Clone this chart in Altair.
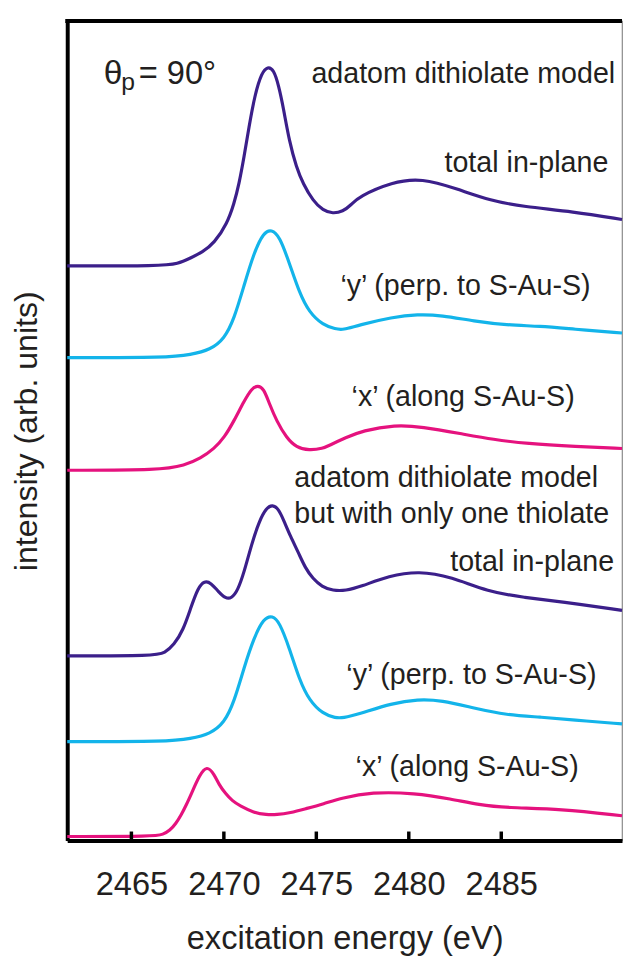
import altair as alt
import pandas as pd

# ---- data (energy in eV, intensity in arb. units) ----
e1 = [2461.53, 2466.60, 2467.51, 2468.20, 2468.84, 2469.48, 2470.18, 2470.55, 2470.82, 2471.09,
      2471.35, 2471.67, 2472.05, 2472.37, 2472.69, 2472.96, 2473.22, 2473.54, 2473.92, 2474.29,
      2474.82, 2475.36, 2475.89, 2476.43, 2476.90, 2477.28, 2479.10, 2480.70, 2482.62, 2484.43,
      2486.20, 2488.87, 2491.53]
i1 = [5.82, 5.82, 5.84, 5.90, 5.96, 6.05, 6.25, 6.45, 6.65, 6.92,
      7.22, 7.55, 7.78, 7.84, 7.81, 7.65, 7.42, 7.08, 6.82, 6.65,
      6.48, 6.38, 6.35, 6.37, 6.44, 6.52, 6.67, 6.71, 6.60, 6.48,
      6.42, 6.37, 6.29]

e2 = [2461.53, 2466.98, 2468.20, 2469.27, 2470.02, 2470.55, 2471.09, 2471.62, 2472.15, 2472.58,
      2473.01, 2473.54, 2474.08, 2474.61, 2475.36, 2476.05, 2476.43, 2477.28, 2479.10, 2480.48,
      2481.76, 2483.53, 2485.29, 2487.10, 2488.87, 2491.53]
i2 = [4.89, 4.89, 4.92, 4.97, 5.08, 5.28, 5.62, 5.95, 6.16, 6.19,
      6.12, 5.85, 5.55, 5.35, 5.22, 5.18, 5.17, 5.22, 5.30, 5.33,
      5.32, 5.26, 5.22, 5.21, 5.18, 5.14]

e3 = [2461.53, 2466.60, 2467.88, 2468.74, 2469.48, 2470.02, 2470.55, 2471.09, 2471.51, 2471.83,
      2472.15, 2472.47, 2472.85, 2473.38, 2473.92, 2474.61, 2475.36, 2475.68, 2476.59, 2477.49,
      2479.26, 2480.70, 2482.83, 2484.59, 2486.36, 2489.03, 2491.53]
i3 = [3.75, 3.75, 3.80, 3.87, 3.97, 4.08, 4.25, 4.45, 4.58, 4.61,
      4.58, 4.42, 4.25, 4.08, 3.98, 3.95, 3.97, 4.00, 4.08, 4.15,
      4.21, 4.19, 4.12, 4.06, 4.02, 3.99, 3.97]

e4 = [2461.53, 2466.28, 2466.80, 2467.30, 2467.80, 2468.20, 2468.60, 2468.95, 2469.30, 2469.70,
      2470.10, 2470.40, 2470.75, 2471.10, 2471.50, 2471.90, 2472.30, 2472.63, 2472.95, 2473.22,
      2473.60, 2474.02, 2474.40, 2474.82, 2475.30, 2475.89, 2476.60, 2477.39, 2478.93, 2480.54,
      2482.30, 2484.27, 2486.25, 2488.22, 2491.53]
i4 = [1.87, 1.87, 1.90, 1.98, 2.13, 2.35, 2.56, 2.63, 2.61, 2.52,
      2.45, 2.45, 2.53, 2.72, 3.00, 3.23, 3.37, 3.40, 3.36, 3.25,
      3.08, 2.92, 2.76, 2.65, 2.57, 2.53, 2.53, 2.57, 2.68, 2.73,
      2.67, 2.52, 2.46, 2.42, 2.33]

e5 = [2461.53, 2466.98, 2468.20, 2469.27, 2470.02, 2470.55, 2471.09, 2471.62, 2472.15, 2472.63,
      2473.01, 2473.54, 2474.08, 2474.61, 2475.36, 2476.05, 2476.43, 2477.28, 2479.10, 2480.48,
      2481.76, 2483.53, 2485.29, 2487.10, 2488.87, 2491.53]
i5 = [1.00, 1.00, 1.03, 1.08, 1.19, 1.40, 1.75, 2.05, 2.25, 2.28,
      2.21, 1.95, 1.63, 1.42, 1.28, 1.24, 1.24, 1.28, 1.39, 1.43,
      1.42, 1.34, 1.27, 1.25, 1.22, 1.18]

e6 = [2461.53, 2466.28, 2466.70, 2467.08, 2467.40, 2467.67, 2467.97, 2468.26, 2468.68, 2469.08,
      2469.48, 2469.75, 2470.07, 2470.45, 2470.87, 2471.62, 2472.30, 2472.85, 2473.60, 2474.40,
      2475.40, 2476.37, 2477.97, 2480.32, 2482.30, 2483.80, 2485.29, 2488.22, 2491.53]
i6 = [0.04, 0.04, 0.06, 0.10, 0.17, 0.25, 0.36, 0.48, 0.66, 0.76,
      0.67, 0.56, 0.48, 0.40, 0.35, 0.28, 0.26, 0.26, 0.28, 0.32,
      0.37, 0.43, 0.49, 0.48, 0.42, 0.36, 0.33, 0.32, 0.25]

series_names = ["s1", "s2", "s3", "s4", "s5", "s6"]
series_colors = ["#3b1f8a", "#13b4ea", "#e5127e", "#3b1f8a", "#13b4ea", "#e5127e"]

x_ticks = [2465, 2470, 2475, 2480, 2485]

ann_text = ["adatom dithiolate model", "total in-plane", "\u2018y\u2019 (perp. to S-Au-S)",
            "\u2018x\u2019 (along S-Au-S)", "total in-plane", "\u2018y\u2019 (perp. to S-Au-S)",
            "\u2018x\u2019 (along S-Au-S)"]
ann_x = [2491.16, 2490.79, 2489.83, 2488.97, 2491.10, 2490.15, 2489.19]
ann_y = [7.67, 6.77, 5.52, 4.40, 2.73, 1.58, 0.65]

ann2_text = ["adatom dithiolate model", "but with only one thiolate"]
ann2_x = [2473.81, 2473.81]
ann2_y = [3.58, 3.22]

# ---- build tables ----
rows = []
for name, es, vs in zip(series_names, [e1, e2, e3, e4, e5, e6], [i1, i2, i3, i4, i5, i6]):
    for order, (e, v) in enumerate(zip(es, vs)):
        rows.append({"series": name, "energy": e, "intensity": v, "order": order})
df = pd.DataFrame(rows)

W, H = 562, 830
XDOM = [2461.53, 2491.53]
YDOM = [0, 8.30]
FONT = "Liberation Sans"
TXT = "#231f20"

xscale = alt.Scale(domain=XDOM, nice=False, zero=False)
yscale = alt.Scale(domain=YDOM, nice=False, zero=False)

lines = alt.Chart(df).mark_line(strokeWidth=3.2, interpolate="basis").encode(
    x=alt.X("energy:Q", scale=xscale,
            axis=alt.Axis(values=x_ticks, format="d", ticks=False, grid=False,
                          domainColor="black", domainWidth=4,
                          labelFont=FONT, labelFontSize=33, labelColor=TXT, labelPadding=29,
                          title="excitation energy (eV)", titleFont=FONT, titleFontSize=33,
                          titleFontWeight="normal", titleColor=TXT, titlePadding=21)),
    y=alt.Y("intensity:Q", scale=yscale,
            axis=alt.Axis(labels=False, ticks=False, grid=False,
                          domainColor="black", domainWidth=4,
                          title="intensity (arb. units)", titleFont=FONT, titleFontSize=32.5,
                          titleFontWeight="normal", titleColor=TXT, titlePadding=24)),
    color=alt.Color("series:N", scale=alt.Scale(domain=series_names, range=series_colors), legend=None),
    order="order:Q",
)

tick_df = pd.DataFrame({"t": x_ticks})
ticks = alt.Chart(tick_df).mark_rule(color="black", strokeWidth=3.5).encode(
    x=alt.X("t:Q", scale=xscale), y=alt.value(H), y2=alt.value(H - 9)
)

top_border = alt.Chart(tick_df.head(1)).mark_rule(color="black", strokeWidth=4).encode(
    x=alt.value(-2), x2=alt.value(W), y=alt.value(0)
)

ann_df = pd.DataFrame({"text": ann_text, "x": ann_x, "y": ann_y})
ann = alt.Chart(ann_df).mark_text(align="right", baseline="alphabetic", font=FONT,
                                  fontSize=29, color=TXT).encode(
    x=alt.X("x:Q", scale=xscale), y=alt.Y("y:Q", scale=yscale), text="text:N"
)
ann2_df = pd.DataFrame({"text": ann2_text, "x": ann2_x, "y": ann2_y})
ann2 = alt.Chart(ann2_df).mark_text(align="left", baseline="alphabetic", font=FONT,
                                    fontSize=29, color=TXT).encode(
    x=alt.X("x:Q", scale=xscale), y=alt.Y("y:Q", scale=yscale), text="text:N"
)

theta_df = pd.DataFrame({"text": ["\u03b8", "p", "= 90\u00b0"],
                         "x": [2463.50, 2464.45, 2465.40],
                         "y": [7.66, 7.60, 7.66],
                         "size": [34, 25, 33]})
theta = alt.Chart(theta_df).mark_text(align="left", baseline="alphabetic", font=FONT,
                                      color=TXT).encode(
    x=alt.X("x:Q", scale=xscale), y=alt.Y("y:Q", scale=yscale), text="text:N",
    size=alt.Size("size:Q", scale=None, legend=None)
)

chart = alt.layer(lines, ticks, top_border, ann, ann2, theta).properties(
    width=W, height=H,
    autosize=alt.AutoSizeParams(type="none"),
    padding={"left": 60, "top": 7, "right": 1, "bottom": 122},
).configure_view(stroke="#8a8a8a", strokeWidth=1.2)

chart.save("out.html", embed_options={"renderer": "svg", "actions": False})
